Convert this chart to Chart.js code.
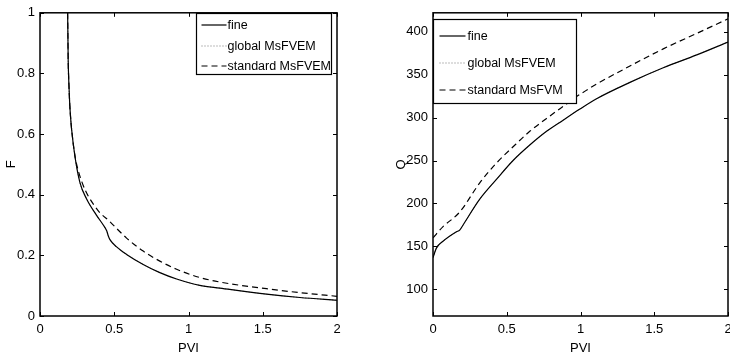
<!DOCTYPE html>
<html>
<head>
<meta charset="utf-8">
<script src="https://cdn.jsdelivr.net/npm/chart.js@4.4.1/dist/chart.umd.min.js"></script>
<style>
  html, body { margin: 0; padding: 0; background: #fff; width: 730px; height: 357px; overflow: hidden; }
  #wrap { position: relative; width: 730px; height: 357px; overflow: hidden; }
  canvas { position: absolute; top: 0; }
</style>
</head>
<body>
<div id="wrap">
  <canvas id="chartF" width="365" height="357" style="left:0;width:365px;height:357px"></canvas>
  <canvas id="chartQ" width="380" height="357" style="left:365px;width:380px;height:357px"></canvas>
</div>
<script>
// Tick labels
const pviTicks = [0, 0.5, 1, 1.5, 2];
const fTicks = [0, 0.2, 0.4, 0.6, 0.8, 1];
const qTicks = [100, 150, 200, 250, 300, 350, 400];

// Left panel : F vs PVI
const pviFine = [0.186, 0.188, 0.19, 0.195, 0.2, 0.206, 0.213, 0.235, 0.269, 0.314, 0.381, 0.426, 0.449, 0.46, 0.471, 0.516, 0.583, 0.695, 0.807, 0.92, 1.076, 1.211, 1.525, 1.75, 2.0];
const fFine   = [1.0, 0.92, 0.84, 0.76, 0.70, 0.655, 0.615, 0.527, 0.44, 0.386, 0.332, 0.30, 0.281, 0.264, 0.252, 0.228, 0.203, 0.17, 0.143, 0.122, 0.101, 0.092, 0.072, 0.061, 0.052];
const fGlobal = [1.0, 0.92, 0.84, 0.76, 0.70, 0.655, 0.615, 0.527, 0.44, 0.386, 0.332, 0.30, 0.281, 0.264, 0.252, 0.228, 0.203, 0.17, 0.143, 0.122, 0.101, 0.092, 0.072, 0.061, 0.052];
const pviStd  = [0.186, 0.188, 0.19, 0.195, 0.2, 0.206, 0.213, 0.235, 0.28, 0.381, 0.471, 0.583, 0.695, 0.807, 0.92, 1.076, 1.211, 1.525, 1.75, 2.0];
const fStd    = [1.0, 0.92, 0.84, 0.76, 0.70, 0.655, 0.615, 0.53, 0.445, 0.354, 0.311, 0.257, 0.214, 0.181, 0.154, 0.127, 0.112, 0.09, 0.077, 0.065];

// Right panel : Q vs PVI
const pviQFine = [0, 0.023, 0.068, 0.159, 0.181, 0.204, 0.317, 0.43, 0.543, 0.656, 0.77, 0.882, 0.996, 1.109, 1.335, 1.561, 1.788, 2.0];
const qFine    = [137, 148, 156, 167, 169, 175, 205, 228, 250, 268, 284, 297, 310, 322, 341, 358, 373, 388];
const qGlobal  = [137, 148, 156, 167, 169, 175, 205, 228, 250, 268, 284, 297, 310, 322, 341, 358, 373, 388];
const pviQStd  = [0, 0.068, 0.181, 0.317, 0.43, 0.543, 0.656, 0.77, 0.882, 0.996, 1.109, 1.335, 1.561, 1.788, 2.0];
const qStd     = [160, 173, 190, 224, 247, 266, 284, 299, 313, 327, 339, 360, 380, 398, 415];

const FONT = "'Liberation Sans', Arial, sans-serif";
Chart.defaults.font.family = FONT;
Chart.defaults.font.size = 13;
Chart.defaults.color = "#000";

const toXY = (xs, ys) => xs.map((x, i) => ({ x: x, y: ys[i] }));

// Cadre, graduations internes et légende façon MATLAB
const matlabBox = {
    id: "matlabBox",
    afterDatasetsDraw(chart, args, opts) {
        const { ctx, chartArea: a, scales } = chart;
        const line = (x1, y1, x2, y2) => {
            ctx.beginPath(); ctx.moveTo(x1, y1); ctx.lineTo(x2, y2); ctx.stroke();
        };
        ctx.save();
        ctx.strokeStyle = "#000";
        ctx.lineWidth = 1;
        ctx.setLineDash([]);
        scales.x.ticks.forEach(t => {
            const px = Math.round(scales.x.getPixelForValue(t.value)) + 0.5;
            line(px, a.bottom, px, a.bottom - 4);
            line(px, a.top, px, a.top + 4);
        });
        scales.y.ticks.forEach(t => {
            const py = Math.round(scales.y.getPixelForValue(t.value)) + 0.5;
            line(a.left, py, a.left + 4, py);
            line(a.right, py, a.right - 4, py);
        });
        ctx.lineWidth = 1.5;
        ctx.strokeRect(a.left, a.top, a.right - a.left, a.bottom - a.top);

        // légende
        const L = opts.legend;
        ctx.fillStyle = "#fff";
        ctx.fillRect(L.x, L.y, L.w, L.h);
        ctx.lineWidth = 1.2;
        ctx.strokeRect(L.x, L.y, L.w, L.h);
        ctx.font = "12.5px " + FONT;
        ctx.textBaseline = "middle";
        ctx.textAlign = "left";
        chart.data.datasets.forEach((ds, i) => {
            const yy = L.rows[i];
            ctx.strokeStyle = ds.borderColor;
            ctx.lineWidth = ds.borderWidth;
            ctx.setLineDash(ds.borderDash || []);
            line(L.x + L.s0, yy, L.x + L.s1, yy);
            ctx.setLineDash([]);
            ctx.fillStyle = "#000";
            ctx.fillText(ds.label, L.x + L.tx, yy + 1);
        });
        ctx.restore();
    }
};

function makeChart(id, sets, labels, yTicks, yMin, yMax, yTitle, yWidth, padding, legend) {
    const styles = [
        { borderColor: "#000", borderWidth: 1.2, borderDash: [] },
        { borderColor: "#777", borderWidth: 1, borderDash: [1, 2] },
        { borderColor: "#000", borderWidth: 1.2, borderDash: [6, 4] }
    ];
    return new Chart(document.getElementById(id), {
        type: "line",
        data: {
            datasets: sets.map((d, i) => Object.assign({
                label: labels[i],
                data: d,
                pointRadius: 0,
                cubicInterpolationMode: "monotone",
                fill: false
            }, styles[i]))
        },
        options: {
            responsive: false,
            animation: false,
            devicePixelRatio: 1,
            layout: { padding: padding },
            plugins: {
                legend: { display: false },
                tooltip: { enabled: false },
                matlabBox: { legend: legend }
            },
            scales: {
                x: {
                    type: "linear",
                    min: 0,
                    max: 2,
                    afterBuildTicks: s => { s.ticks = pviTicks.map(v => ({ value: v })); },
                    afterFit: s => { s.height = 41; },
                    grid: { display: false, drawTicks: false },
                    border: { display: false },
                    ticks: { padding: 6, maxRotation: 0, callback: v => String(v) },
                    title: { display: true, text: "PVI", padding: { top: 0, bottom: 1 } }
                },
                y: {
                    type: "linear",
                    min: yMin,
                    max: yMax,
                    afterBuildTicks: s => { s.ticks = yTicks.map(v => ({ value: v })); },
                    afterFit: s => { s.width = yWidth; },
                    grid: { display: false, drawTicks: false },
                    border: { display: false },
                    ticks: { padding: 5, callback: v => String(v) },
                    title: { display: true, text: yTitle, padding: { top: 4, bottom: 0 } }
                }
            }
        },
        plugins: [matlabBox]
    });
}

document.addEventListener("DOMContentLoaded", () => {
    makeChart("chartF",
        [toXY(pviFine, fFine), toXY(pviFine, fGlobal), toXY(pviStd, fStd)],
        ["fine", "global MsFVEM", "standard MsFVEM"],
        fTicks, 0, 1, "F", 40,
        { top: 7, right: 28, left: 0, bottom: 0 },
        { x: 196.5, y: 13.5, w: 135, h: 61, s0: 5, s1: 30, tx: 31, rows: [25, 46, 66] });

    makeChart("chartQ",
        [toXY(pviQFine, qFine), toXY(pviQFine, qGlobal), toXY(pviQStd, qStd)],
        ["fine", "global MsFVEM", "standard MsFVM"],
        qTicks, 69, 422, "Q", 43,
        { top: 7, right: 17, left: 25, bottom: 0 },
        { x: 68.5, y: 19.5, w: 143, h: 84, s0: 6, s1: 32, tx: 34, rows: [36, 63, 90] });
});
</script>
</body>
</html>
